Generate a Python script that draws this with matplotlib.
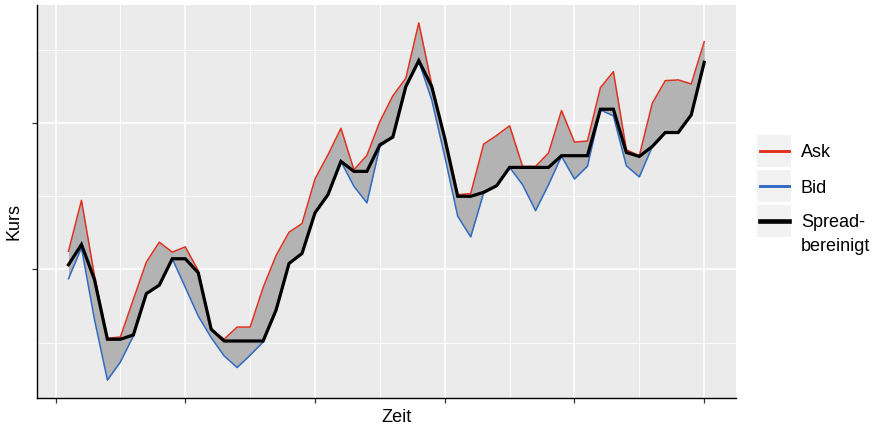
import numpy as np
import matplotlib.pyplot as plt
from matplotlib.patches import Rectangle
from matplotlib.lines import Line2D

# Werte
zeit = np.arange(1, 51)
ask = [101.24, 104.71, 99.59, 95.31, 95.39, 97.96, 100.50, 101.86, 101.18, 101.54,
       99.93, 95.92, 95.24, 96.07, 96.07, 98.76, 100.95, 102.54, 103.13, 106.17,
       107.82, 109.63, 106.80, 107.78, 110.09, 111.84, 113.04, 116.82, 112.59, 108.96,
       105.10, 105.17, 108.55, 109.14, 109.80, 107.03, 107.03, 107.94, 110.84, 108.69,
       108.76, 112.40, 113.49, 108.16, 107.76, 111.34, 112.88, 112.93, 112.65, 115.53]
bid = [99.37, 101.48, 96.60, 92.45, 93.69, 95.46, 98.35, 98.93, 100.73, 98.78,
       96.82, 95.35, 94.10, 93.31, 94.15, 95.05, 97.23, 100.41, 101.09, 103.86,
       105.10, 107.37, 105.67, 104.54, 108.39, 109.03, 112.47, 114.20, 111.56, 107.71,
       103.63, 102.22, 105.22, 105.71, 106.96, 105.78, 104.01, 105.78, 107.72, 106.17,
       107.04, 110.88, 110.48, 107.07, 106.31, 108.39, 109.34, 109.34, 110.54, 114.13]
spread = [100.32, 101.70, 99.32, 95.24, 95.24, 95.53, 98.35, 98.93, 100.73, 100.73,
          99.78, 95.92, 95.12, 95.12, 95.12, 95.12, 97.23, 100.41, 101.09, 103.86,
          105.10, 107.37, 106.69, 106.69, 108.50, 109.03, 112.47, 114.24, 112.47, 108.96,
          104.99, 104.99, 105.26, 105.71, 106.96, 106.96, 106.96, 106.96, 107.76, 107.76,
          107.76, 110.93, 110.93, 107.98, 107.71, 108.39, 109.34, 109.34, 110.54, 114.13]

c_ask = "#E0301E"
c_bid = "#2F6BC4"

plt.rcParams['font.family'] = ['Liberation Sans', 'DejaVu Sans']

fig = plt.figure(figsize=(8.82, 4.29), dpi=100)
ax = fig.add_axes([36.7/882, 1-398/429, (736-36.7)/882, (398-5)/429])
ax.set_facecolor("#EBEBEB")

ax.fill_between(zeit, bid, ask, color="#B3B3B3", lw=0, zorder=2)
ax.plot(zeit, ask, color=c_ask, lw=1.1, zorder=3)
ax.plot(zeit, bid, color=c_bid, lw=1.1, zorder=3)
ax.plot(zeit, spread, color="black", lw=2.3, zorder=4, solid_joinstyle="miter")

ax.margins(x=0.05, y=0.05)
ax.set_xticks([0, 10, 20, 30, 40, 50])
ax.set_xticks([5, 15, 25, 35, 45], minor=True)
ax.set_yticks([100, 110])
ax.set_yticks([95, 105, 115], minor=True)
ax.set_xticklabels([])
ax.set_yticklabels([])
ax.tick_params(which="major", length=3.5, width=0.9, color="#333333")
ax.tick_params(which="minor", length=0)
ax.grid(which="major", color="white", lw=1.1, zorder=0)
ax.grid(which="minor", color="white", lw=0.6, zorder=0)
ax.set_axisbelow(True)
for s in ["top", "right"]:
    ax.spines[s].set_visible(False)
for s in ["left", "bottom"]:
    ax.spines[s].set_color("black")
    ax.spines[s].set_linewidth(1.0)

fig.text(14/882, 1-222/429, "Kurs", rotation=90, ha="center", va="center", fontsize=13)
fig.text(397/882, 1-418/429, "Zeit", ha="center", va="center", fontsize=13)

# Legende
eintraege = [("Ask", c_ask, 1.1, 157.3), ("Bid", c_bid, 1.1, 192.7), ("Spread-", "black", 2.3, 226.7)]
for i, (name, farbe, breite, basis) in enumerate(eintraege):
    y0 = 135 + i * 35
    fig.add_artist(Rectangle((757/882, 1-(y0+32)/429), 34/882, 32/429,
                             transform=fig.transFigure, facecolor="#F2F2F2", edgecolor="none"))
    yl = 1 - (y0 + 16)/429
    fig.add_artist(Line2D([760/882, 789/882], [yl, yl], transform=fig.transFigure,
                          color=farbe, lw=breite + 1.0))
    fig.text(801/882, 1-basis/429, name, ha="left", va="baseline", fontsize=13)
fig.text(801/882, 1-250.7/429, "bereinigt", ha="left", va="baseline", fontsize=13)

plt.savefig("out.png", dpi=100)
